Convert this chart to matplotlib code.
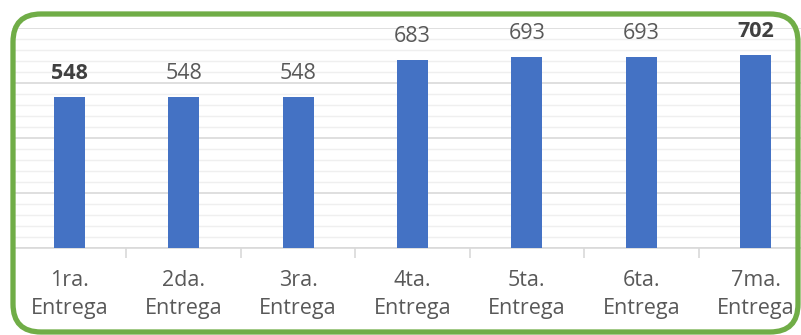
import matplotlib
matplotlib.use("Agg")
import matplotlib.pyplot as plt
import matplotlib.ticker as mticker
from matplotlib.patches import FancyBboxPatch
import numpy as np

categories = ["1ra.\nEntrega", "2da.\nEntrega", "3ra.\nEntrega", "4ta.\nEntrega",
              "5ta.\nEntrega", "6ta.\nEntrega", "7ma.\nEntrega"]
values = [548, 548, 548, 683, 693, 693, 702]
bold_labels = [True, False, False, False, False, False, True]

BAR_COLOR = "#4472C4"
TEXT_COLOR = "#595959"
W, H = 801, 335

plt.rcParams["font.family"] = ["Open Sans", "DejaVu Sans"]

fig = plt.figure(figsize=(W / 100, H / 100), dpi=100)
# plot area in pixels: x 12..813 (clipped at right), y 28..248
ax = fig.add_axes([12 / W, 1 - 248 / H, 801 / W, 220 / H])

x = np.arange(len(values))
ax.bar(x, values, width=0.27, color=BAR_COLOR, zorder=3)
ax.set_xlim(-0.5, len(values) - 0.5)
ax.set_ylim(0, 800)

ax.yaxis.set_major_locator(mticker.MultipleLocator(200))
ax.yaxis.set_minor_locator(mticker.MultipleLocator(40))
ax.grid(axis="y", which="major", color="#D9D9D9", linewidth=1.2, zorder=0)
ax.grid(axis="y", which="minor", color="#EFEFEF", linewidth=1.0, zorder=0)
ax.tick_params(axis="y", which="both", left=False, labelleft=False)

ax.set_xticks(x)
ax.set_xticklabels(categories, fontsize=15.5, color=TEXT_COLOR, linespacing=1.42)
ax.set_xticks(np.arange(len(values) - 1) + 0.5, minor=True)
ax.tick_params(axis="x", which="major", length=0, pad=16)
ax.tick_params(axis="x", which="minor", length=7, color="#D9D9D9", width=1.2)

for s in ["top", "right", "left"]:
    ax.spines[s].set_visible(False)
ax.spines["bottom"].set_color("#D9D9D9")
ax.spines["bottom"].set_linewidth(1.2)

for xi, v, b in zip(x, values, bold_labels):
    ax.annotate(f"{v}", (xi, v), xytext=(0, 17), textcoords="offset points",
                ha="center", va="center", fontsize=15.5,
                color="#404040" if b else TEXT_COLOR,
                fontweight="bold" if b else "normal", zorder=4)

border = FancyBboxPatch((13 / W, 3 / H), 785 / W, 318 / H,
                        boxstyle="round,pad=0,rounding_size=0.035",
                        transform=fig.transFigure, fill=False,
                        edgecolor="#70AD47", linewidth=3.8, zorder=10,
                        mutation_aspect=W / H)
fig.patches.append(border)

fig.savefig("out.png", dpi=100, facecolor="white")
